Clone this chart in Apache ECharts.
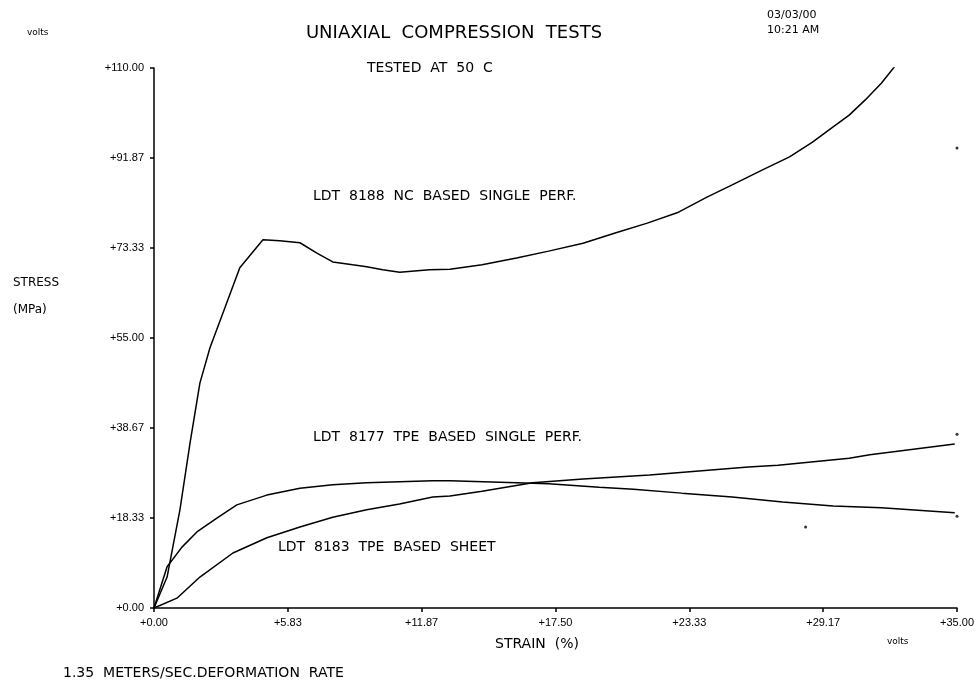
<!DOCTYPE html>
<html>
<head>
<meta charset="utf-8">
<title>Uniaxial Compression Tests</title>
<script src="https://cdn.jsdelivr.net/npm/echarts@6/dist/echarts.min.js"></script>
<style>
	html, body { margin: 0; padding: 0; background: #ffffff; }
	#main { width: 977px; height: 685px; }
</style>
</head>
<body>
<div id="main"></div>
<script>
// tick labels as printed on the plot
var xTickLabels = ['+0.00', '+5.83', '+11.87', '+17.50', '+23.33', '+29.17', '+35.00'];
var yTickLabels = ['+0.00', '+18.33', '+38.67', '+55.00', '+73.33', '+91.87', '+110.00'];

// strain (%) , stress (MPa)
var nc8188 = [
	[0, 0], [0.57, 6.3], [1.13, 20], [1.57, 33.6], [2.0, 45.8], [2.44, 53],
	[3.74, 69.3], [4.27, 72.3], [4.75, 75.0], [5.48, 74.8], [6.36, 74.4],
	[7.1, 72.3], [7.79, 70.5], [8.66, 69.9], [9.27, 69.5], [9.97, 68.9],
	[10.71, 68.4], [12.0, 68.9], [12.9, 69.0], [14.3, 69.9], [15.8, 71.3],
	[17.2, 72.7], [18.7, 74.3], [20.1, 76.4], [21.5, 78.4], [22.8, 80.5],
	[24.1, 83.7], [25.2, 86.2], [26.5, 89.2], [27.7, 91.9], [28.7, 94.9],
	[29.6, 98.0], [30.3, 100.4], [31.0, 103.5], [31.7, 106.9], [32.3, 110.4]
];
var tpe8177 = [
	[0, 0], [0.57, 8.4], [1.22, 12.4], [1.87, 15.5], [2.74, 18.3], [3.61, 21.0],
	[4.92, 23.0], [6.36, 24.4], [7.79, 25.1], [9.27, 25.5], [10.7, 25.7],
	[12.15, 25.9], [12.9, 25.9], [15.8, 25.5], [17.2, 25.3], [19.4, 24.6],
	[20.9, 24.2], [23.0, 23.4], [25.2, 22.6], [27.4, 21.6], [29.6, 20.8],
	[31.7, 20.4], [34.9, 19.4]
];
var tpe8183 = [
	[0, 0], [1.0, 2.0], [2.0, 6.3], [3.44, 11.2], [4.92, 14.3], [6.36, 16.5],
	[7.79, 18.5], [9.27, 20.0], [10.7, 21.2], [12.15, 22.6], [12.9, 22.8],
	[14.3, 23.8], [16.5, 25.5], [18.7, 26.3], [21.6, 27.1], [25.9, 28.7],
	[27.2, 29.1], [30.3, 30.5], [31.2, 31.2], [34.9, 33.4]
];
// stray plotter dots
var penDots = [[35, 93.7], [35, 35.4], [35, 18.7], [28.4, 16.5]];

var xStep = 35 / 6;
var yStep = 110 / 6;
var ink = '#000000';
var tickFont = 'Liberation Sans';
var noteFont = 'DejaVu Sans';

function txt(text, x, y, size, align) {
	return {
		type : 'text',
		x : x,
		y : y,
		silent : true,
		style : {
			text : text,
			fill : ink,
			fontFamily : noteFont,
			fontSize : size,
			textAlign : align || 'left',
			align : align || 'left',
			textVerticalAlign : 'middle',
			verticalAlign : 'middle'
		}
	};
}

function lineSeries(name, data) {
	return {
		name : name,
		type : 'line',
		data : data,
		showSymbol : false,
		symbol : 'none',
		smooth : false,
		lineStyle : { color : ink, width : 1.5 },
		animation : false
	};
}

var myChart = echarts.init(document.getElementById('main'));
var option = {
	backgroundColor : '#ffffff',
	animation : false,
	grid : { left : 154, right : 19, top : 68, bottom : 77 },
	xAxis : {
		type : 'value',
		min : 0,
		max : 35,
		interval : xStep,
		splitLine : { show : false },
		axisLine : { lineStyle : { color : ink, width : 1.5 } },
		axisTick : { length : 4, lineStyle : { color : ink, width : 1.5 } },
		axisLabel : {
			color : ink,
			fontFamily : tickFont,
			fontSize : 11,
			margin : 9,
			showMaxLabel : true,
			formatter : function(v) {
				return xTickLabels[Math.round(v / xStep)];
			}
		}
	},
	yAxis : {
		type : 'value',
		min : 0,
		max : 110,
		interval : yStep,
		splitLine : { show : false },
		axisLine : { show : true, lineStyle : { color : ink, width : 1.5 } },
		axisTick : { show : true, length : 4, lineStyle : { color : ink, width : 1.5 } },
		axisLabel : {
			color : ink,
			fontFamily : tickFont,
			fontSize : 11,
			margin : 10,
			showMaxLabel : true,
			formatter : function(v) {
				return yTickLabels[Math.round(v / yStep)];
			}
		}
	},
	series : [
		lineSeries('LDT 8188 NC BASED SINGLE PERF.', nc8188),
		lineSeries('LDT 8177 TPE BASED SINGLE PERF.', tpe8177),
		lineSeries('LDT 8183 TPE BASED SHEET', tpe8183),
		{
			name : 'dots',
			type : 'scatter',
			data : penDots,
			symbolSize : 3,
			itemStyle : { color : ink },
			silent : true
		}
	],
	graphic : [
		txt('volts', 27, 33, 9),
		txt('UNIAXIAL  COMPRESSION  TESTS', 454, 33, 18, 'center'),
		txt('03/03/00', 767, 15, 11),
		txt('10:21 AM', 767, 30, 11),
		txt('TESTED  AT  50  C', 367, 68, 14),
		txt('LDT  8188  NC  BASED  SINGLE  PERF.', 313, 196, 14),
		txt('LDT  8177  TPE  BASED  SINGLE  PERF.', 313, 437, 14),
		txt('LDT  8183  TPE  BASED  SHEET', 278, 547, 14),
		txt('STRESS', 13, 283, 12),
		txt('(MPa)', 13, 310, 12),
		txt('STRAIN  (%)', 495, 644, 14),
		txt('volts', 887, 642, 9),
		txt('1.35  METERS/SEC.DEFORMATION  RATE', 63, 673, 14)
	]
};
myChart.setOption(option);
</script>
</body>
</html>
